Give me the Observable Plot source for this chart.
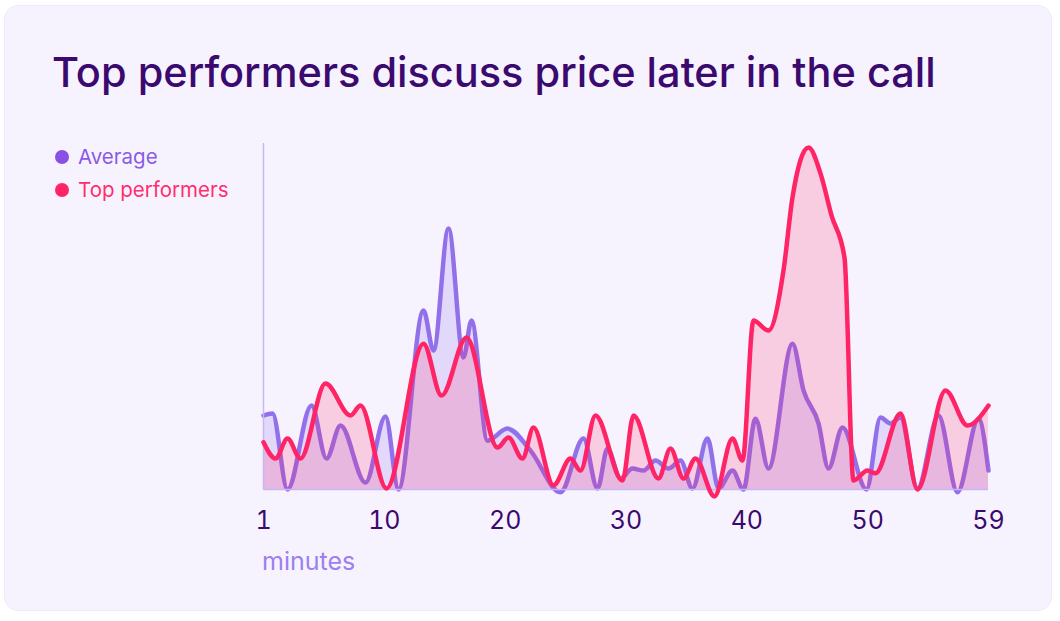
<!DOCTYPE html>
<html>
<head>
<meta charset="utf-8">
<script src="https://cdn.jsdelivr.net/npm/d3@7"></script>
<script src="https://cdn.jsdelivr.net/npm/@observablehq/plot@0.6"></script>
<style>
  html, body { margin: 0; padding: 0; background: #ffffff; width: 1060px; height: 621px; overflow: hidden; }
  body { font-family: Inter, "Noto Sans", sans-serif; position: relative; }
  .card { position: absolute; left: 4px; top: 5px; width: 1048px; height: 606px; background: #f7f3fe; border-radius: 14px; border: 1px solid #efeaf8; box-sizing: border-box; }
  h1 { position: absolute; left: 52px; top: 52px; margin: 0; font-size: 41.5px; font-weight: 500; color: #3b0a6e; letter-spacing: 0px; white-space: nowrap; line-height: 1; }
  .legend { position: absolute; left: 55px; top: 140px; font-size: 20.5px; }
  .legend div { display: flex; align-items: center; height: 33px; }
  .legend span.dot { display: inline-block; width: 14px; height: 14px; border-radius: 50%; margin-right: 9px; }
  #chart { position: absolute; left: 230px; top: 120px; }
  .xlabel { position: absolute; left: 262px; top: 549px; font-size: 25px; color: #9c7ff0; line-height: 1; }
</style>
</head>
<body>
<div class="card"></div>
<h1>Top performers discuss price later in the call</h1>
<div class="legend" id="legend"></div>
<div id="chart"></div>
<div class="xlabel">minutes</div>
<script>
// Series names and colours
const seriesNames = ["Average", "Top performers"];
const seriesColors = ["#9270ea", "#ff2466"];

// Average (minute, share of calls discussing price)
const avgMinutes = [1.0, 1.72, 2.92, 4.84, 6.04, 7.16, 9.16, 10.76, 11.8, 13.8, 14.6, 15.8, 17.0, 17.64, 18.92, 20.52, 22.36, 24.76, 26.6, 27.72, 28.52, 29.56, 30.52, 31.4, 32.36, 33.4, 34.36, 35.32, 36.52, 37.4, 38.52, 39.4, 40.36, 41.4, 43.32, 44.2, 45.4, 46.2, 47.32, 49.24, 50.36, 51.16, 51.96, 53.32, 55.0, 56.52, 58.2, 59.0];
const avgValues  = [21.5, 22.1, 0, 24.4, 9.0, 18.6, 2.0, 21.2, 0, 52.0, 40.4, 75.9, 38.4, 49.1, 14.2, 17.7, 11.3, -0.8, 14.8, 0.3, 11.9, 3.2, 6.1, 5.5, 8.4, 6.1, 8.4, 0.3, 14.8, 0.3, 5.5, 0, 20.6, 6.1, 42.4, 28.8, 19.2, 6.1, 18.0, 0, 20.9, 19.2, 20.9, 0.3, 21.5, -0.8, 20.6, 5.5];

// Top performers
const topMinutes = [1.0, 1.96, 2.92, 3.96, 5.96, 7.96, 8.76, 10.84, 13.8, 15.24, 17.24, 19.72, 20.6, 21.72, 22.6, 24.2, 25.56, 26.36, 27.56, 29.72, 30.6, 32.6, 33.56, 34.6, 35.56, 37.08, 38.52, 39.32, 40.2, 41.4, 42.6, 43.32, 44.6, 45.56, 46.44, 47.48, 48.2, 49.32, 49.96, 51.96, 53.32, 55.56, 57.32, 59.0];
const topValues  = [13.7, 9.0, 14.8, 9.0, 30.8, 21.5, 24.4, 0.3, 42.4, 27.3, 44.2, 12.2, 15.1, 9.0, 18.0, 1.2, 9.0, 5.5, 21.5, 2.6, 21.5, 3.2, 11.9, 3.2, 9.0, -2.0, 14.8, 8.4, 49.1, 46.2, 63.7, 84.9, 99.4, 91.9, 79.7, 67.4, 2.6, 5.5, 4.7, 22.1, 0, 28.8, 18.6, 24.4];

// X tick labels (shown evenly spaced along the axis)
const tickLabels = ["1", "10", "20", "30", "40", "50", "59"];

const avgData = avgMinutes.map((m, i) => ({m, v: avgValues[i]}));
const topData = topMinutes.map((m, i) => ({m, v: topValues[i]}));
const xMin = 1, xMax = 59;
const tickPositions = tickLabels.map((_, i) => xMin + i * (xMax - xMin) / (tickLabels.length - 1));

// Legend
const legendEl = document.getElementById("legend");
seriesNames.forEach((name, i) => {
  const row = document.createElement("div");
  row.innerHTML = `<span class="dot" style="background:${i === 0 ? '#8a4fe3' : seriesColors[1]}"></span><span style="color:${i === 0 ? '#8a5ae6' : '#ff2d6f'}">${name}</span>`;
  legendEl.appendChild(row);
});

const chart = Plot.plot({
  width: 790,
  height: 470,
  marginLeft: 33,
  marginRight: 32,
  marginTop: 25,
  marginBottom: 101,
  x: {domain: [xMin, xMax]},
  y: {domain: [0, 100], axis: null},
  style: {background: "transparent", overflow: "visible", fontFamily: "Inter, sans-serif"},
  marks: [
    Plot.areaY(avgData, {x: "m", y: "v", curve: "monotone-x", fill: seriesColors[0], fillOpacity: 0.2}),
    Plot.lineY(avgData, {x: "m", y: "v", curve: "monotone-x", stroke: seriesColors[0], strokeWidth: 4.5}),
    Plot.areaY(topData, {x: "m", y: "v", curve: "monotone-x", fill: seriesColors[1], fillOpacity: 0.18}),
    Plot.ruleX([xMin], {y1: 0, y2: 100.6, stroke: "#c7b6f5", strokeWidth: 1.5}),
    Plot.ruleY([0], {stroke: "#c7b6f5", strokeWidth: 1.5}),
    Plot.lineY(topData, {x: "m", y: "v", curve: "monotone-x", stroke: seriesColors[1], strokeWidth: 4.5}),
    Plot.axisX({ticks: tickPositions, tickFormat: (d, i) => tickLabels[i], tickSize: 0, tickPadding: 22, fontSize: 25, color: "#3b0a6e", label: null})
  ]
});
document.getElementById("chart").appendChild(chart);
</script>
</body>
</html>
